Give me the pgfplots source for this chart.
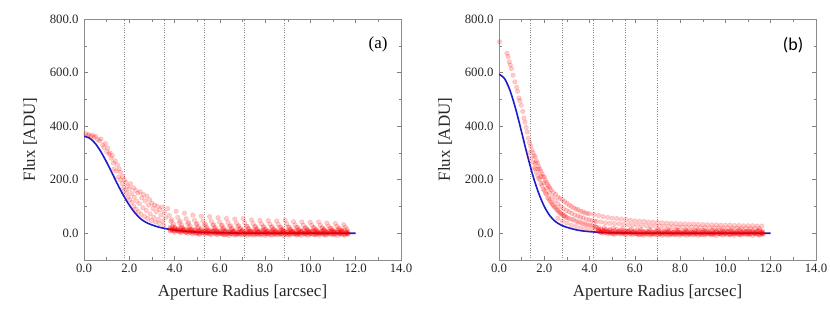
\documentclass[border=0pt]{standalone}
\usepackage{pgfplots}
\pgfplotsset{compat=1.18}
\usepackage{pgfplotstable}
\usepackage{fontspec}
\setmainfont{Liberation Serif}
\newfontfamily\carlito{Carlito}
\definecolor{fitblue}{RGB}{28,28,205}

\pgfplotstableread{
x a b c d
3.8 12 17 8 22
3.9 14 12 10 18
4.0 8 17 4 22
4.1 14 11 10 14
4.2 10 7 5 17
4.3 8 11 2 21
4.4 10 14 6 12
4.5 4 5 3 16
4.6 10 7 0 12
4.7 4 10 3 14
4.8 6 4 -3 10
4.9 2 11 3 14
5.0 5 0 -1 7
5.1 -1 6 -4 10
5.2 6 2 1 15
5.3 3 8 -1 7
5.4 2 3 -3 12
5.5 5 0 0 9
5.6 -1 4 -6 10
5.7 6 8 1 7
5.8 0 0 -3 12
5.9 3 3 -5 5
6.0 -1 5 -1 8
6.1 1 -1 -4 12
6.2 -4 7 -6 4
6.3 3 -4 -3 9
6.4 0 3 -8 6
6.5 -1 -1 -1 8
6.6 2 5 -5 5
6.7 -3 0 -7 10
6.8 4 -3 -2 3
6.9 -2 2 -4 7
7.0 1 6 -6 12
7.1 -2 -2 -3 4
7.2 1 1 -8 9
7.3 -4 4 -1 6
7.4 3 -1 -5 8
7.5 0 7 -7 5
7.6 -1 -4 -2 10
7.7 2 3 -4 3
7.8 -3 -1 -6 7
7.9 4 5 -3 12
8.0 -2 0 -8 4
8.1 1 -3 -1 9
8.2 -2 2 -5 6
8.3 1 6 -7 8
8.4 -4 -2 -2 5
8.5 3 1 -4 10
8.6 0 4 -6 3
8.7 -1 -1 -3 7
8.8 2 7 -8 12
8.9 -3 -4 -1 4
9.0 4 3 -5 9
9.1 -2 -1 -7 6
9.2 1 5 -2 8
9.3 -2 0 -4 5
9.4 1 -3 -6 10
9.5 -4 2 -3 3
9.6 3 6 -8 7
9.7 0 -2 -1 12
9.8 -1 1 -5 4
9.9 2 4 -7 9
10.0 -3 -1 -2 6
10.1 4 7 -4 8
10.2 -2 -4 -6 5
10.3 1 3 -3 10
10.4 -2 -1 -8 3
10.5 1 5 -1 7
10.6 -4 0 -5 12
10.7 3 -3 -7 4
10.8 0 2 -2 9
10.9 -1 6 -4 6
11.0 2 -2 -6 8
11.1 -3 1 -3 5
11.2 4 4 -8 10
11.3 -2 -1 -1 3
11.4 1 7 -5 7
11.5 -2 -4 -7 12
11.6 1 3 -2 4
11.65 -1 0 -4 8
}\bandtable

\pgfplotsset{
  every axis y label/.style={at={(axis description cs:-0.17,0.5)}, rotate=90, anchor=center},
  every axis x label/.style={at={(axis description cs:0.5,0)}, anchor=base, yshift=-36bp},
  panel/.style={
    scale only axis, width=317bp, height=241bp,
    xmin=0, xmax=14, ymin=-100, ymax=800,
    xtick={0,2,4,6,8,10,12,14}, ytick={0,200,400,600,800},
    minor x tick num=1, minor y tick num=1,
    tick align=inside,
    axis line style={black!45, line width=0.6bp},
    major tick length=4bp, minor tick length=2.5bp,
    every tick/.append style={black!50, line width=0.5bp},
    ticklabel style={font=\fontsize{12.8}{14}\selectfont, text=black!85},
    yticklabel style={xshift=-2bp},
    /pgf/number format/fixed, /pgf/number format/fixed zerofill,
    /pgf/number format/precision=1, /pgf/number format/1000 sep={},
    /pgf/number format/assume math mode=true,
    label style={font=\fontsize{17}{20}\selectfont, text=black!85},
    xlabel={Aperture Radius [arcsec]}, ylabel={Flux [ADU]},
    extra x tick labels={},
    extra x tick style={grid=major, major tick length=0pt,
      major grid style={dotted, black!45, line width=0.55bp}},
  },
  pts/.style={only marks, mark=*, mark size=2.3bp,
    mark options={draw=red, fill=red, fill opacity=0.2, draw opacity=0.22, line width=0.3bp}},
  fit/.style={fitblue, line width=1.6bp, smooth, no marks},
}

\begin{document}
\begin{tikzpicture}
\path[use as bounding box] (0,0) rectangle (830bp,313bp);

% ---------------- panel (a) ----------------
\begin{axis}[panel, at={(84bp,53bp)}, anchor=south west,
  extra x ticks={1.765,3.53,5.295,7.06,8.825}]
\addplot[pts] coordinates {
(0.08,372)(0.15,365)(0.22,368)(0.30,362)(0.38,366)(0.45,358)(0.52,362)(0.60,350)
(0.68,345)(0.75,352)(0.82,330)(0.88,320)(0.95,335)(1.00,305)(1.05,318)(1.10,295)
(1.15,300)(1.20,280)(1.25,290)(1.30,262)(1.32,240)(1.38,270)(1.42,232)(1.48,255)
(1.52,210)(1.55,240)(1.60,200)(1.62,228)(1.68,185)(1.70,212)(1.75,170)(1.78,200)
(1.80,160)(1.85,190)(1.88,150)(1.92,175)(1.95,135)(2.00,165)(2.02,125)(2.05,185)
(2.10,148)(2.12,115)(2.18,170)(2.20,100)(2.22,135)(2.28,160)(2.30,90)(2.32,120)
(2.38,150)(2.40,80)(2.45,110)(2.48,155)(2.52,70)(2.55,132)(2.60,95)(2.62,145)
(2.68,62)(2.70,120)(2.75,85)(2.78,138)(2.82,55)(2.85,105)(2.90,125)(2.92,72)
(2.98,48)(3.00,112)(3.05,92)(3.08,60)(3.12,105)(3.15,42)(3.20,80)(3.25,100)
(3.28,52)(3.32,36)(3.35,88)(3.40,68)(3.45,98)(3.48,45)(3.52,30)(3.55,78)(3.60,58)
};
\addplot[pts] coordinates {
(3.70,92)(3.77,66)(3.84,44)(3.91,26)(3.98,11)
(4.07,82)(4.14,59)(4.21,39)(4.28,23)(4.35,10)
(4.44,75)(4.51,54)(4.58,36)(4.65,21)(4.72,9)
(4.81,68)(4.88,49)(4.95,33)(5.02,19)(5.09,8)
(5.18,64)(5.25,46)(5.32,31)(5.39,18)(5.46,8)
(5.55,62)(5.62,45)(5.69,30)(5.76,17)(5.83,7)
(5.92,58)(5.99,42)(6.06,28)(6.13,16)(6.20,7)
(6.29,55)(6.36,40)(6.43,26)(6.50,15)(6.57,7)
(6.66,53)(6.73,38)(6.80,25)(6.87,15)(6.94,6)
(7.03,55)(7.10,40)(7.17,26)(7.24,15)(7.31,7)
(7.40,50)(7.47,36)(7.54,24)(7.61,14)(7.68,6)
(7.77,48)(7.84,35)(7.91,23)(7.98,13)(8.05,6)
(8.14,47)(8.21,34)(8.28,23)(8.35,13)(8.42,6)
(8.51,46)(8.58,33)(8.65,22)(8.72,13)(8.79,6)
(8.88,48)(8.95,35)(9.02,23)(9.09,13)(9.16,6)
(9.25,43)(9.32,31)(9.39,21)(9.46,12)(9.53,5)
(9.62,42)(9.69,30)(9.76,20)(9.83,12)(9.90,5)
(9.99,41)(10.06,30)(10.13,20)(10.20,11)(10.27,5)
(10.36,42)(10.43,30)(10.50,20)(10.57,12)(10.64,5)
(10.73,38)(10.80,27)(10.87,18)(10.94,11)(11.01,5)
(11.10,36)(11.17,26)(11.24,17)(11.31,10)(11.38,4)
(11.47,32)(11.54,23)(11.61,15)
};
\addplot[pts] coordinates {
(3.88,50)(3.95,34)(4.02,20)(4.25,45)(4.32,30)(4.39,17)(4.62,40)(4.69,27)(4.76,15)
(4.99,36)(5.06,24)(5.13,13)(5.36,34)(5.43,22)(5.50,12)(5.73,32)(5.80,21)(5.87,11)
(6.10,30)(6.17,20)(6.24,10)(6.47,28)(6.54,18)(6.61,9)(6.84,28)(6.91,18)(6.98,9)
(7.21,26)(7.28,17)(7.35,9)(7.58,25)(7.65,16)(7.72,8)(7.95,24)(8.02,15)(8.09,8)
(8.32,24)(8.39,15)(8.46,8)(8.69,23)(8.76,15)(8.83,8)(9.06,23)(9.13,15)(9.20,8)
(9.43,22)(9.50,14)(9.57,7)(9.80,21)(9.87,14)(9.94,7)(10.17,21)(10.24,14)(10.31,7)
(10.54,20)(10.61,13)(10.68,7)(10.91,19)(10.98,12)(11.05,6)(11.28,18)(11.35,12)(11.42,6)
};
\addplot[pts] table[x=x, y=a] {\bandtable};
\addplot[pts] table[x=x, y=b] {\bandtable};
\addplot[pts] table[x=x, y=c] {\bandtable};
\addplot[pts] table[x=x, y=d] {\bandtable};
\addplot[fit] coordinates {
(0,362)(0.25,355)(0.5,335)(0.75,304)(1.0,265)(1.25,223)(1.5,180)(1.75,140)
(2.0,105)(2.25,76)(2.5,54)(2.75,40)(3.0,31)(3.25,24)(3.5,19)(3.75,15)(4.0,12)
(4.5,7)(5.0,4)(5.5,2.5)(6.0,1.5)(7.0,0.5)(8.0,0.2)(9.0,0)(10.0,0)(11.0,0)(12.0,0)
};
\node[font=\fontsize{17}{20}\selectfont] at (axis cs:12.99,706) {(a)};
\end{axis}

% ---------------- panel (b) ----------------
\begin{axis}[panel, at={(499bp,53bp)}, anchor=south west,
  extra x ticks={1.395,2.79,4.185,5.58,6.975}]
\addplot[pts] coordinates {
(0.02,715)(0.35,672)(0.40,660)(0.45,640)(0.50,628)(0.55,615)(0.62,590)(0.70,565)
(0.78,545)(0.82,530)(0.88,505)(0.92,495)(0.98,478)(1.05,455)(1.10,430)(1.15,415)
(1.20,395)(1.25,378)(1.30,355)(1.35,338)(1.40,325)(1.45,310)(1.50,300)(1.55,290)
(1.60,285)(1.65,270)(1.70,262)(1.75,250)(1.80,240)(1.85,232)(1.90,222)(1.95,212)
(2.00,210)(2.05,198)(2.10,190)(2.15,182)(2.20,175)(2.25,168)(2.30,162)(2.40,152)
(2.50,145)(2.60,135)(2.70,130)(2.80,125)(2.90,118)(3.00,112)(3.10,105)(3.20,100)
(3.30,95)(3.40,90)(3.50,88)(3.60,82)(3.70,80)(3.80,76)(3.90,74)(4.00,72)
};
\addplot[pts] coordinates {
(1.30,300)(1.40,280)(1.50,265)(1.55,245)(1.60,240)(1.65,228)(1.70,215)(1.75,205)
(1.80,200)(1.85,185)(1.90,178)(1.95,165)(2.00,160)(2.05,150)(2.10,145)(2.15,132)
(2.20,128)(2.25,120)(2.30,115)(2.35,108)(2.40,104)(2.45,98)(2.50,95)(2.55,88)
(2.60,85)(2.65,80)(2.70,76)(2.75,72)(2.80,70)(2.85,66)(2.90,65)(2.95,60)(3.00,58)
(3.10,55)(3.20,52)(3.30,50)(3.40,45)(3.50,42)(3.60,40)(3.70,36)(3.80,34)(3.90,31)
(4.00,30)(4.10,28)(4.20,25)(4.30,23)(4.40,20)
};
\addplot[pts] coordinates {
(1.60,262)(1.72,240)(1.85,212)(1.98,188)(2.10,168)(2.22,150)(2.35,135)(2.48,122)
(2.60,110)(2.72,100)(2.85,92)(2.98,85)(3.10,80)(3.22,74)(3.35,68)(3.48,64)(3.60,60)
(3.72,57)(3.85,52)(3.98,50)(4.10,47)(4.22,45)
(2.6,55)(2.8,45)(3.0,38)(3.2,30)(3.4,25)(3.6,20)(3.8,16)(4.0,12)(4.2,10)(4.4,8)
(4.6,6)(4.8,5)
};
\addplot[pts] coordinates {
(4.2,70)(4.4,66)(4.6,62)(4.8,59)(5.0,56)(5.2,55)(5.4,53)(5.6,51)(5.8,48)(6.0,46)
(6.2,45)(6.4,44)(6.6,42)(6.8,41)(7.0,40)(7.2,39)(7.4,38)(7.6,37)(7.8,36)(8.0,35)
(8.2,35)(8.4,34)(8.6,34)(8.8,33)(9.0,32)(9.2,32)(9.4,31)(9.6,31)(9.8,30)(10.0,30)
(10.2,30)(10.4,29)(10.6,29)(10.8,28)(11.0,28)(11.2,28)(11.4,27)(11.6,27)
(4.3,44)(4.5,42)(4.7,39)(4.9,37)(5.1,36)(5.3,35)(5.5,34)(5.7,32)(5.9,31)(6.1,30)
(6.3,29)(6.5,28)(6.7,27)(6.9,26)(7.1,26)(7.3,25)(7.5,24)(7.7,24)(7.9,23)(8.1,23)
(8.3,22)(8.5,22)(8.7,22)(8.9,21)(9.1,21)(9.3,20)(9.5,20)(9.7,20)(9.9,19)(10.1,19)
(10.3,19)(10.5,19)(10.7,18)(10.9,18)(11.1,18)(11.3,18)(11.5,17)
(4.25,24)(4.65,21)(5.05,19)(5.45,18)(5.85,16)(6.25,15)(6.65,14)(7.05,13)(7.45,13)
(7.85,12)(8.25,12)(8.65,11)(9.05,11)(9.45,11)(9.85,10)(10.25,10)(10.65,10)(11.05,9)(11.45,9)
};
\addplot[pts] table[x=x, y=a, restrict x to domain=4.4:12] {\bandtable};
\addplot[pts] table[x=x, y=b, restrict x to domain=4.4:12] {\bandtable};
\addplot[pts] table[x=x, y=c, restrict x to domain=4.4:12] {\bandtable};
\addplot[pts] table[x=x, y=d, restrict x to domain=4.4:12] {\bandtable};
\addplot[fit] coordinates {
(0,594)(0.25,577)(0.5,530)(0.75,460)(1.0,377)(1.25,292)(1.5,214)(1.75,150)
(2.0,100)(2.25,65)(2.5,43)(2.75,30)(3.0,22)(3.25,16)(3.5,11)(3.75,8)(4.0,6)
(4.5,3)(5.0,1.5)(6.0,0.5)(7.0,0.2)(8.0,0)(9.0,0)(10.0,0)(11.0,0)(12.0,0)
};
\node[font=\carlito\fontsize{18}{21}\selectfont] at (axis cs:12.99,703) {(b)};
\end{axis}
\end{tikzpicture}
\end{document}
